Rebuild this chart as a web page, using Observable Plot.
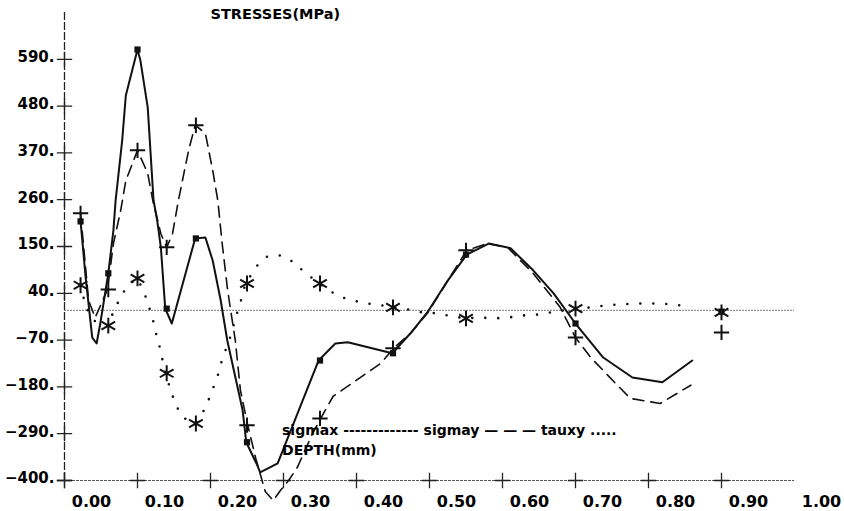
<!DOCTYPE html>
<html><head><meta charset="utf-8">
<script src="https://cdn.jsdelivr.net/npm/d3@7"></script>
<script src="https://cdn.jsdelivr.net/npm/@observablehq/plot@0.6"></script>
<style>body{margin:0;background:#fff} #chart svg{display:block;background:#fff}</style>
</head><body><div id="chart"></div>
<script>
// sigmax (solid)
const sigmaxDepth = [0.022,0.029,0.038,0.044,0.049,0.060,0.067,0.070,0.079,0.084,0.100,0.104,0.114,0.122,0.127,0.132,0.138,0.147,0.179,0.193,0.203,0.214,0.223,0.244,0.249,0.264,0.268,0.292,0.348,0.371,0.388,0.449,0.474,0.497,0.525,0.551,0.581,0.611,0.642,0.670,0.700,0.738,0.778,0.819,0.860];
const sigmaxValue = [209,77,-64,-78,-31,87,188,258,399,505,613,587,477,258,211,148,4,-31,169,171,117,23,-71,-235,-310,-364,-381,-360,-118,-78,-75,-101,-54,-5,70,131,157,146,94,40,-31,-111,-158,-169,-118];
// sigmay (dashed)
const sigmayDepth = [0.022,0.033,0.042,0.059,0.067,0.077,0.084,0.093,0.100,0.114,0.121,0.132,0.140,0.148,0.156,0.170,0.179,0.193,0.203,0.210,0.216,0.223,0.227,0.234,0.241,0.251,0.262,0.275,0.286,0.296,0.307,0.319,0.340,0.351,0.368,0.405,0.433,0.451,0.474,0.497,0.515,0.551,0.579,0.607,0.642,0.679,0.700,0.721,0.755,0.775,0.816,0.858];
const sigmayValue = [228,23,-17,49,157,235,305,345,376,322,258,180,148,180,258,376,435,416,329,258,157,54,7,-71,-188,-270,-348,-426,-447,-423,-400,-369,-289,-254,-202,-158,-125,-89,-54,-7,42,141,157,148,87,7,-64,-111,-172,-207,-219,-176];
// tauxy (dotted)
const tauxyDepth = [0.022,0.027,0.033,0.042,0.060,0.068,0.077,0.086,0.100,0.110,0.116,0.122,0.126,0.131,0.135,0.138,0.146,0.152,0.162,0.179,0.189,0.197,0.204,0.211,0.216,0.223,0.229,0.234,0.240,0.248,0.264,0.278,0.296,0.314,0.329,0.349,0.375,0.395,0.414,0.433,0.451,0.471,0.490,0.511,0.530,0.551,0.570,0.589,0.608,0.629,0.648,0.666,0.700,0.723,0.742,0.762,0.781,0.800,0.819,0.838,0.858];
const tauxyValue = [59,24,-5,-26,-36,2,30,58,75,38,7,-28,-59,-90,-123,-148,-190,-221,-252,-266,-242,-212,-181,-148,-115,-82,-54,-19,12,63,105,127,129,113,89,63,33,23,16,12,7,2,-5,-7,-14,-19,-17,-19,-17,-12,-10,-5,4,7,12,14,16,16,16,12,12];
// markers
const markerDepth = [0.022,0.06,0.10,0.14,0.18,0.25,0.35,0.45,0.55,0.70,0.90];
const sigmaxMarks = [209,87,613,4,169,-310,-118,-101,131,-31,-3];
const sigmayMarks = [228,49,376,148,435,-270,-254,-89,141,-64,-52];
const tauxyMarks = [59,-36,75,-148,-266,63,63,7,-19,4,-5];
// ticks
const yTickValues = [590,480,370,260,150,40,-70,-180,-290,-400];
const xTickValues = [0,0.1,0.2,0.3,0.4,0.5,0.6,0.7,0.8,0.9];
const xLabelValues = [0,0.1,0.2,0.3,0.4,0.5,0.6,0.7,0.8,0.9,1.0];

const pts = (xs, ys) => xs.map((x, i) => ({x, y: ys[i]}));
const font = "DejaVu Sans";

const chart = Plot.plot({
  width: 844, height: 511,
  marginLeft: 64, marginRight: 50, marginTop: 12, marginBottom: 31,
  style: {fontFamily: font, background: "#fff", overflow: "visible"},
  x: {domain: [0, 1]},
  y: {domain: [-400, 700]},
  marks: [
    Plot.ruleY([0], {stroke: "#777", strokeWidth: 1, strokeDasharray: "2,1"}),
    Plot.ruleY([-400], {stroke: "#555", strokeWidth: 1.2, strokeDasharray: "3,1"}),
    Plot.ruleX([0], {stroke: "#222", strokeWidth: 1.3, strokeDasharray: "8,2"}),
    Plot.dot(yTickValues, {x: 0, y: d => d, symbol: "plus", r: 5, stroke: "#222", strokeWidth: 1.3}),
    Plot.dot(xTickValues, {x: d => d, y: -400, symbol: "plus", r: 5, stroke: "#222", strokeWidth: 1.3}),
    Plot.axisY({ticks: yTickValues, tickSize: 0, tickPadding: 10, dy: -2, fontSize: 15, fontWeight: "bold",
      tickFormat: d => (d < 0 ? "\u2212" : "") + Math.abs(d) + ".", label: null}),
    Plot.axisX({ticks: xLabelValues, tickSize: 0, tickPadding: 15, dx: 27, fontSize: 16, fontWeight: "bold",
      tickFormat: d3.format(".2f"), label: null}),
    Plot.line(pts(tauxyDepth, tauxyValue), {x: "x", y: "y", stroke: "#111", strokeWidth: 2.6, strokeDasharray: "0,13", strokeLinecap: "round"}),
    Plot.line(pts(sigmayDepth, sigmayValue), {x: "x", y: "y", stroke: "#111", strokeWidth: 1.6, strokeDasharray: "11,7"}),
    Plot.line(pts(sigmaxDepth, sigmaxValue), {x: "x", y: "y", stroke: "#111", strokeWidth: 2}),
    Plot.dot(pts(markerDepth, sigmaxMarks), {x: "x", y: "y", symbol: "square", r: 3.5, fill: "#111"}),
    Plot.dot(pts(markerDepth, sigmayMarks), {x: "x", y: "y", symbol: "plus", r: 5, stroke: "#111", strokeWidth: 2}),
    Plot.dot(pts(markerDepth, tauxyMarks), {x: "x", y: "y", symbol: "asterisk", r: 7.5, stroke: "#111", strokeWidth: 2}),
    Plot.text(["STRESSES(MPa)"], {x: 0.2, frameAnchor: "top", dy: -4, textAnchor: "start", fontSize: 14.5, fontWeight: "bold"}),
    Plot.text(["sigmax ------------- sigmay \u2014 \u2014 \u2014 tauxy ....."], {x: 0.298, y: -282, textAnchor: "start", fontSize: 14, fontWeight: "bold"}),
    Plot.text(["DEPTH(mm)"], {x: 0.298, y: -329, textAnchor: "start", fontSize: 14, fontWeight: "bold"})
  ]
});
document.getElementById("chart").appendChild(chart);
</script>
</body></html>
